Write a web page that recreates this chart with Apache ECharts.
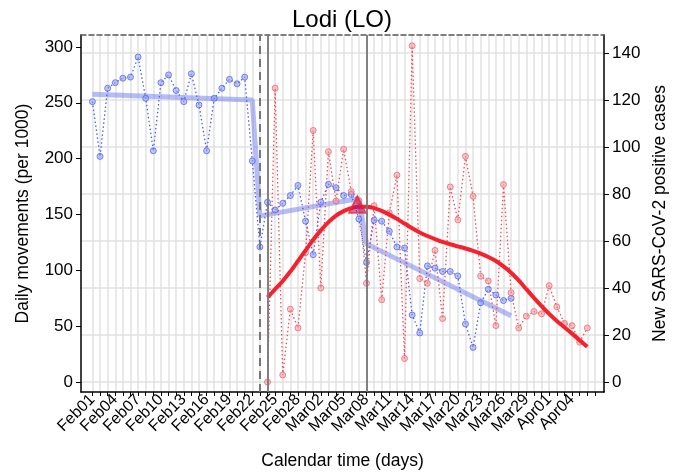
<!DOCTYPE html>
<html>
<head>
<meta charset="utf-8">
<script src="https://cdn.jsdelivr.net/npm/echarts@6/dist/echarts.min.js"></script>
<style>
  html, body { margin: 0; padding: 0; background: #fff; }
  #chart { width: 684px; height: 475px; }
</style>
</head>
<body>
<div id="chart"></div>
<script>
// day index: 0 = Feb01 (2020), 29 = Mar01, 60 = Apr01
const tickDays = [0, 3, 6, 9, 12, 15, 18, 21, 24, 27, 30, 33, 36, 39, 42, 45, 48, 51, 54, 57, 60, 63];
const tickLabels = ['Feb01', 'Feb04', 'Feb07', 'Feb10', 'Feb13', 'Feb16', 'Feb19', 'Feb22', 'Feb25', 'Feb28',
  'Mar02', 'Mar05', 'Mar08', 'Mar11', 'Mar14', 'Mar17', 'Mar20', 'Mar23', 'Mar26', 'Mar29', 'Apr01', 'Apr04'];

// daily movements (per 1000), starting Feb01
const movementStart = 0;
const movements = [251, 202, 263, 268, 272, 273, 291, 254, 207, 268, 275, 261, 251, 276, 248, 207, 254, 263, 271, 267,
  273, 198, 121, 161, 154, 160, 167, 176, 144, 114, 161, 177, 174, 167, 168, 146, 107, 145, 144, 135,
  121, 120, 60, 44, 104, 102, 99, 99, 95, 52, 31, 71, 83, 78, 73, 75];

// piecewise fit of movements: [day, value]
const movementFit = [[0, 257.7], [21, 252.4], [22, 148.8], [35, 164.3], [36, 123.7], [55, 59.3]];

// new positive cases, starting Feb24
const casesStart = 23;
const cases = [0, 125, 3, 31, 23, 55, 107, 40, 98, 77, 99, 81, 77, 42, 75, 35, 72, 88, 10, 143,
  44, 42, 56, 27, 83, 69, 96, 79, 45, 43, 24, 84, 38, 23, 28, 30, 29, 41, 32, 25, 24, 17, 23];

// smoothed fit of cases, starting Feb24
const casesFit = [36, 39.5, 43, 47, 51.5, 56, 60.5, 64.5, 68, 70.8, 72.7, 74, 74.6, 74.6, 74, 72.8, 71.2, 69.4, 67.4, 65.4,
  63.6, 62.1, 60.8, 59.6, 58.6, 57.7, 56.8, 55.8, 54.6, 53.2, 51.5, 49.2, 46.5, 43.2, 39.5, 35.8, 32.3, 29, 26, 23.3,
  20.6, 17.8, 15];

const peakPoint = [[34.8, 75.5]];
const dashedDays = [22];
const solidDays = [23, 36];

const leftTicks = [0, 50, 100, 150, 200, 250, 300];
const rightTicks = [0, 20, 40, 60, 80, 100, 120, 140];
const allDays = Array.from({ length: 67 }, (_, i) => i);

const withDays = (arr, start) => arr.map((v, i) => [start + i, v]);

const chart = echarts.init(document.getElementById('chart'));
const font = 'Liberation Sans, Arial, sans-serif';

const option = {
  animation: false,
  title: {
    text: 'Lodi (LO)',
    left: 'center',
    top: 3,
    textStyle: { fontFamily: font, fontSize: 24, fontWeight: 'normal', color: '#000' }
  },
  grid: { left: 81, right: 80, top: 35, bottom: 81 },
  xAxis: [{
    type: 'value',
    min: -1.5,
    max: 67.2,
    name: 'Calendar time (days)',
    nameLocation: 'middle',
    nameGap: 60,
    nameTextStyle: { fontFamily: font, fontSize: 17.5, color: '#000' },
    axisLine: { show: true, onZero: false, lineStyle: { color: '#000', width: 1.5 } },
    axisTick: { show: true, length: 4, customValues: allDays, lineStyle: { color: '#000' } },
    axisLabel: {
      customValues: tickDays,
      rotate: 45,
      margin: 5,
      fontFamily: font,
      fontSize: 16,
      color: '#000',
      formatter: (v) => tickLabels[tickDays.indexOf(v)] || ''
    },
    splitLine: { show: true, customValues: allDays, lineStyle: { color: '#e2e2e2', width: 1.5 } }
  }, {
    type: 'value',
    position: 'top',
    min: -1.5,
    max: 67.2,
    axisLine: { show: true, onZero: false, lineStyle: { color: '#555', width: 1.5, type: [5, 3] } },
    axisTick: { show: false },
    axisLabel: { show: false },
    splitLine: { show: false }
  }],
  yAxis: [{
    type: 'value',
    min: -8.9,
    max: 310.7,
    name: 'Daily movements (per 1000)',
    nameLocation: 'middle',
    nameGap: 49,
    nameTextStyle: { fontFamily: font, fontSize: 17.5, color: '#000' },
    axisLine: { show: true, onZero: false, lineStyle: { color: '#000', width: 1.5 } },
    axisTick: { show: true, length: 5, customValues: leftTicks, lineStyle: { color: '#000' } },
    axisLabel: { customValues: leftTicks, fontFamily: font, fontSize: 17, color: '#000', margin: 8 },
    splitLine: { show: false }
  }, {
    type: 'value',
    min: -4.23,
    max: 147.6,
    position: 'right',
    name: 'New SARS-CoV-2 positive cases',
    nameLocation: 'middle',
    nameGap: 47,
    nameRotate: 90,
    nameTextStyle: { fontFamily: font, fontSize: 17.5, color: '#000' },
    axisLine: { show: true, onZero: false, lineStyle: { color: '#000', width: 1.5 } },
    axisTick: { show: true, length: 5, customValues: rightTicks, lineStyle: { color: '#000' } },
    axisLabel: { customValues: rightTicks, fontFamily: font, fontSize: 17, color: '#000', margin: 8 },
    splitLine: { show: true, customValues: rightTicks, lineStyle: { color: '#e2e2e2', width: 1.5 } }
  }],
  series: [
    {
      name: 'movement fit',
      type: 'line',
      yAxisIndex: 0,
      data: movementFit,
      symbol: 'none',
      lineStyle: { color: 'rgba(120,135,240,0.55)', width: 5 },
      z: 2,
      markLine: {
        silent: true,
        symbol: 'none',
        label: { show: false },
        data: [
          ...dashedDays.map(d => ({ xAxis: d, lineStyle: { color: '#777', width: 2, type: [8, 5] } })),
          ...solidDays.map(d => ({ xAxis: d, lineStyle: { color: '#777', width: 1.8, type: 'solid' } }))
        ]
      }
    },
    {
      name: 'movements',
      type: 'line',
      yAxisIndex: 0,
      data: withDays(movements, movementStart),
      symbol: 'circle',
      symbolSize: 6,
      lineStyle: { color: '#4b5ff0', width: 1.3, type: [1.5, 2.5] },
      itemStyle: { color: 'rgba(140,155,245,0.55)', borderColor: 'rgba(80,100,240,0.75)', borderWidth: 1 },
      z: 3
    },
    {
      name: 'cases',
      type: 'line',
      yAxisIndex: 1,
      data: withDays(cases, casesStart),
      symbol: 'circle',
      symbolSize: 6,
      lineStyle: { color: '#f0505c', width: 1.3, type: [1.5, 2.5] },
      itemStyle: { color: 'rgba(245,150,158,0.55)', borderColor: 'rgba(240,100,110,0.75)', borderWidth: 1 },
      z: 3
    },
    {
      name: 'cases fit',
      type: 'line',
      yAxisIndex: 1,
      data: withDays(casesFit, casesStart),
      symbol: 'none',
      smooth: 0.3,
      lineStyle: { color: '#f5222d', width: 4 },
      z: 4
    },
    {
      name: 'peak',
      type: 'scatter',
      yAxisIndex: 1,
      data: peakPoint,
      symbol: 'triangle',
      symbolSize: 17,
      itemStyle: { color: 'rgba(180,25,100,0.75)', borderColor: '#f5222d', borderWidth: 1.5 },
      z: 5
    }
  ]
};

chart.setOption(option);
</script>
</body>
</html>
